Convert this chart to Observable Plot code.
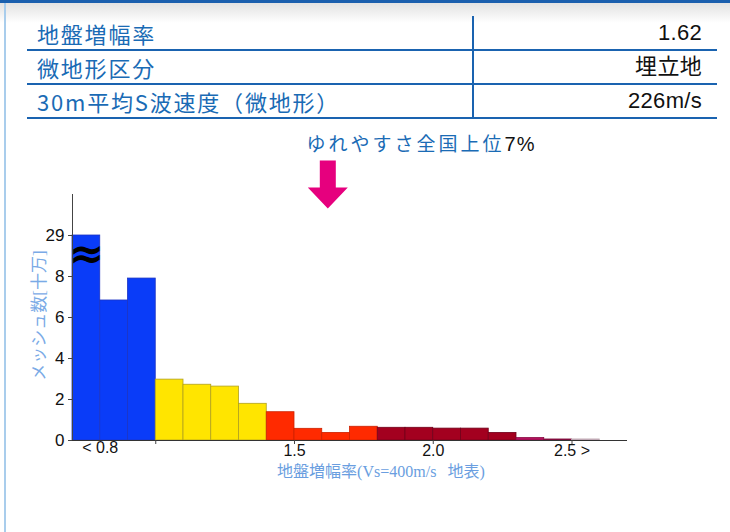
<!DOCTYPE html>
<html><head><meta charset="utf-8">
<script src="https://cdn.jsdelivr.net/npm/d3@7"></script>
<script src="https://cdn.jsdelivr.net/npm/@observablehq/plot@0.6"></script>
<style>
html,body{margin:0;padding:0;background:#fff;}
body{width:730px;height:532px;overflow:hidden;position:relative;font-family:"Noto Sans CJK JP","Liberation Sans",sans-serif;}
#topbar{position:absolute;left:0;top:0;width:730px;height:3px;background:#1a5fae;z-index:3;}
#shadow{position:absolute;left:0;top:3px;width:730px;height:20px;background:linear-gradient(#e2e2e2,#ffffff);z-index:0;}
#leftline{position:absolute;left:4px;top:3px;width:2px;height:529px;background:#a9cdec;z-index:3;}
#chart{position:absolute;left:0;top:0;z-index:1;}
.hl{position:absolute;left:27px;width:690px;height:2px;background:#1a63b0;z-index:2;}
.vl{position:absolute;left:472px;top:16px;width:2px;height:103px;background:#1a63b0;z-index:2;}
.lab{position:absolute;left:37px;font-size:22px;letter-spacing:1.8px;color:#1a6bb5;line-height:1;z-index:2;white-space:nowrap;}
.val{position:absolute;right:28px;font-size:22px;letter-spacing:0.3px;color:#111;line-height:1;z-index:2;white-space:nowrap;font-family:"Liberation Sans","Noto Sans CJK JP",sans-serif;}
#note{position:absolute;left:421px;top:133px;transform:translateX(-50%);font-size:19px;letter-spacing:3px;color:#1a6bb5;white-space:nowrap;line-height:1;z-index:2;}
#note span{color:#111;font-family:"Liberation Sans",sans-serif;font-size:20px;letter-spacing:1px;}
</style>
</head><body>
<div id="topbar"></div><div id="shadow"></div><div id="leftline"></div>
<div id="root"></div>
<script>
// ---- data ----
const rowLabels = ["地盤増幅率", "微地形区分", "30m平均S波速度（微地形）"];
const rowValues = ["1.62", "埋立地", "226m/s"];
const amplification = 1.62;
const noteText = "ゆれやすさ全国上位";
const notePct = "7%";

const binStart = [0.7,0.8,0.9,1.0,1.1,1.2,1.3,1.4,1.5,1.6,1.7,1.8,1.9,2.0,2.1,2.2,2.3,2.4,2.5];
const counts   = [29,6.83,7.9,2.97,2.72,2.63,1.79,1.38,0.57,0.37,0.67,0.62,0.62,0.58,0.58,0.37,0.12,0.05,0.05];
const groups   = ["b","b","b","y","y","y","y","r","r","r","r","d","d","d","d","d","m","m2","g"];
const fillOf   = {b:"#0a3cf8", y:"#ffe500", r:"#ff2a00", d:"#a3001f", m:"#b3125e", m2:"#9e1048", g:"#e0c8d4"};
const strokeOf = {b:"#1c34c4", y:"#b0a020", r:"#cc2200", d:"#70001a", m:"#8a0a44", m2:"#7a0a38", g:"#b8a0ac"};
const yTicks = [0,2,4,6,8,10];
const yTickLabels = ["0","2","4","6","8","29"];
const xTicks = [1.0,1.5,2.0,2.5];
const xTickLabels = ["","1.5","2.0","2.5 >"];
const firstLabel = "< 0.8";
const binWidth = 0.1;
const breakAt = 10; // displayed height for broken bar
const xLabel = "地盤増幅率(Vs=400m/s\u2002\u2009地表)";
const yLabel = "メッシュ数[十万]";

// ---- table ----
const root = document.getElementById("root");
const rowTops = [16, 50, 84];
const lineYs = [50, 84, 118];
rowLabels.forEach((t,i)=>{
  const a = document.createElement("div"); a.className="lab"; a.textContent=t; a.style.top=(rowTops[i]+6)+"px"; root.appendChild(a);
  const b = document.createElement("div"); b.className="val"; b.textContent=rowValues[i]; b.style.top=(rowTops[i]+6)+"px"; root.appendChild(b);
  const l = document.createElement("div"); l.className="hl"; l.style.top=(lineYs[i]-1)+"px"; root.appendChild(l);
});
const vl = document.createElement("div"); vl.className="vl"; root.appendChild(vl);
const note = document.createElement("div"); note.id="note";
note.innerHTML = noteText + "<span>" + notePct + "</span>";
root.appendChild(note);

// ---- chart ----
const bars = binStart.map((x,i)=>({
  x1:x, x2:+(x+binWidth).toFixed(2),
  y: counts[i] > 9 ? breakAt : counts[i],
  fill: fillOf[groups[i]], stroke: strokeOf[groups[i]]
}));

const arrowSymbol = {
  draw(ctx){
    // tip at origin
    ctx.moveTo(-8,-48); ctx.lineTo(8,-48); ctx.lineTo(8,-21); ctx.lineTo(20,-21);
    ctx.lineTo(0,0); ctx.lineTo(-20,-21); ctx.lineTo(-8,-21); ctx.closePath();
  }
};

const chart = Plot.plot({
  width:730, height:532,
  marginLeft:72, marginRight:103, marginTop:194, marginBottom:92,
  x:{domain:[0.7,2.7]},
  y:{domain:[0,12]},
  style:{background:"transparent", fontFamily:"'Liberation Sans', Arial, sans-serif", fontSize:"17px", color:"#111"},
  marks:[
    Plot.rectY(bars,{x1:"x1",x2:"x2",y:"y",fill:"fill",stroke:"stroke",strokeWidth:0.8}),
    Plot.ruleY([0],{x1:0.7,x2:2.7,stroke:"#333",strokeWidth:1}),
    Plot.ruleX([0.7],{y1:0,y2:12,stroke:"#444",strokeWidth:1}),
    Plot.axisY({ticks:yTicks, tickFormat:(d)=>yTickLabels[yTicks.indexOf(d)], tickSize:4, tickPadding:4, fontSize:17, label:null, stroke:"#444"}),
    Plot.axisX({ticks:xTicks, tickFormat:(d)=>xTickLabels[xTicks.indexOf(d)], tickSize:4, tickPadding:0, fontSize:16, label:null, stroke:"#444"}),
    Plot.text([firstLabel],{x:()=>0.8, text:d=>d, frameAnchor:"bottom", dy:12, fontSize:16, fill:"#111"}),
    Plot.text([breakAt],{x:()=>binStart[0]+binWidth/2, y:()=>9.07, text:()=>"≈", fontSize:42, fontWeight:"bold", fill:"#000", fontFamily:"DejaVu Sans"}),
    Plot.text([xLabel],{text:d=>d, frameAnchor:"bottom", dx:31, dy:36, fontSize:16, fill:"#6a9ee0", fontFamily:"'Liberation Serif','Noto Sans CJK JP',serif"}),
    Plot.text([yLabel],{text:d=>d, frameAnchor:"left", textAnchor:"middle", rotate:-90, dx:-33, dy:-2, fontSize:17, fill:"#7aaae6", fontFamily:"'Liberation Serif','Noto Sans CJK JP',serif"}),
    Plot.dot([amplification],{x:d=>d, frameAnchor:"top", dy:14, symbol:arrowSymbol, r:1, fill:"#e6007e", stroke:"none"})
  ]
});
chart.id = "chart";
document.body.appendChild(chart);
</script>
</body></html>
